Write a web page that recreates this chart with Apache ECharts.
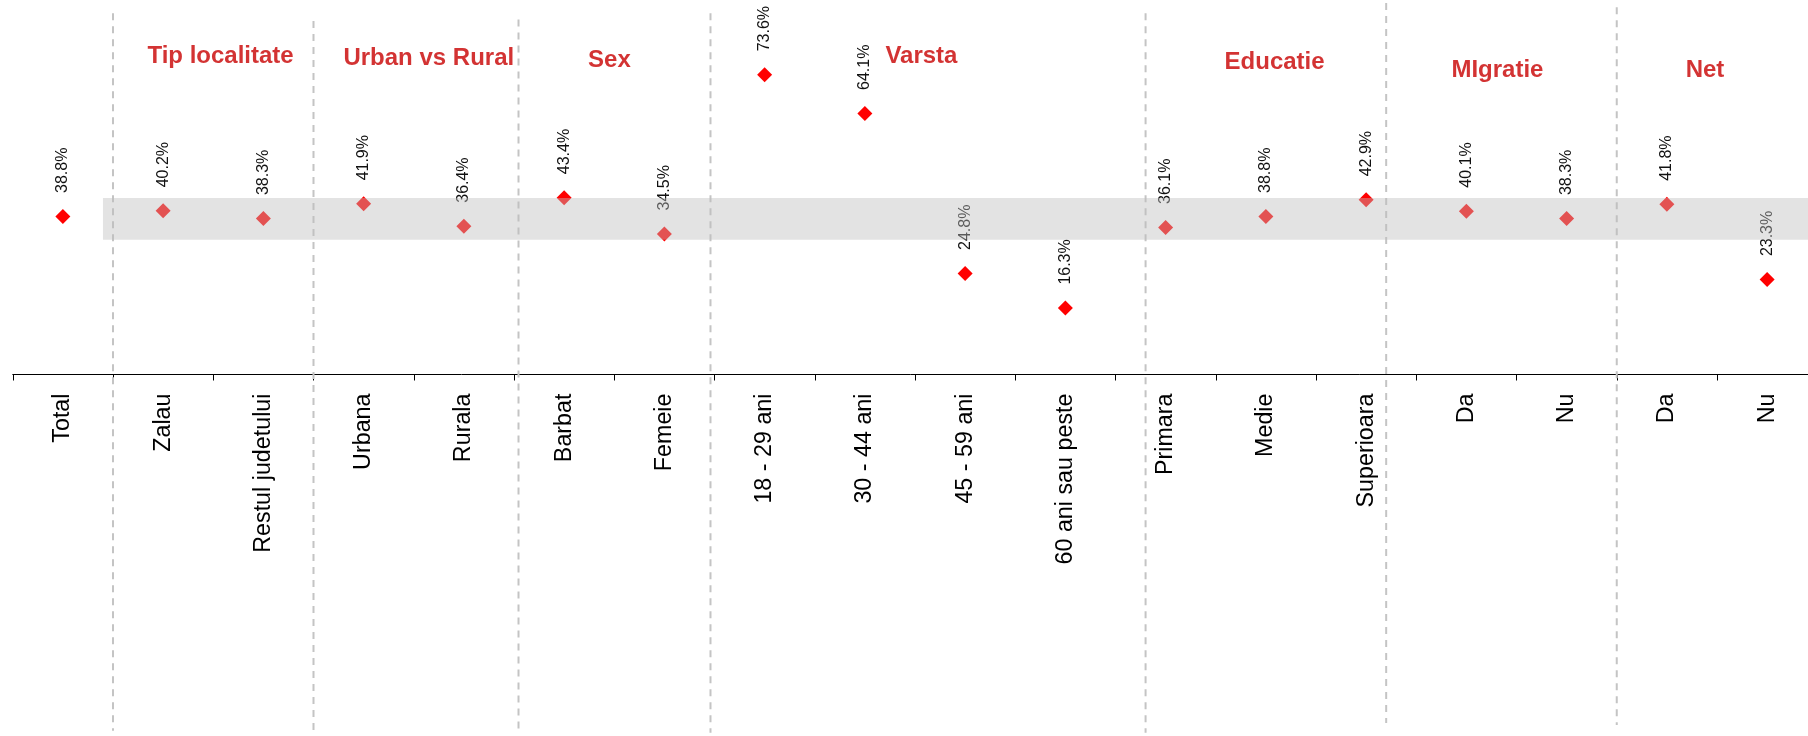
<!DOCTYPE html>
<html>
<head>
<meta charset="utf-8">
<script src="https://cdn.jsdelivr.net/npm/echarts@6/dist/echarts.min.js"></script>
<style>
  html, body { margin: 0; padding: 0; background: #fff; }
  #chart { width: 1808px; height: 736px; }
</style>
</head>
<body>
<div id="chart"></div>
<script>
// Categories along the x axis
const categories = [
  'Total',
  'Zalau', 'Restul judetului',
  'Urbana', 'Rurala',
  'Barbat', 'Femeie',
  '18 - 29 ani', '30 - 44 ani', '45 - 59 ani', '60 ani sau peste',
  'Primara', 'Medie', 'Superioara',
  'Da', 'Nu',
  'Da', 'Nu'
];

// Share (%) for each category
const values = [
  38.8,
  40.2, 38.3,
  41.9, 36.4,
  43.4, 34.5,
  73.6, 64.1, 24.8, 16.3,
  36.1, 38.8, 42.9,
  40.1, 38.3,
  41.8, 23.3
];

// Group headings
const groupNames = ['Tip localitate', 'Urban vs Rural', 'Sex', 'Varsta', 'Educatie', 'MIgratie', 'Net'];

// Reference band around the total (lower / upper, %)
const bandLow = 33.1;
const bandHigh = 43.35;

// Layout: heading anchors in axis units [category position, %]
const groupAnchors = [[1.573, 78.1], [3.65, 77.6], [5.452, 77.1], [8.564, 78.0], [12.087, 76.7], [14.31, 74.8], [16.38, 74.8]];
// Layout: group separators [category position, top %, bottom %]
const separators = [
  [0.5, 88.7, -87.5], [2.5, 86.8, -88.5], [4.545, 87.2, -88], [6.46, 88.7, -88],
  [10.8, 88.7, -88], [13.2, 91.2, -85.6], [15.5, 90.2, -86.1]
];

const FONT = "'Liberation Sans', Arial, sans-serif";
const chart = echarts.init(document.getElementById('chart'), null, { renderer: 'canvas' });

chart.setOption({
  animation: false,
  backgroundColor: '#ffffff',
  grid: { left: 12.75, top: 8, width: 1804.5, height: 366.5, containLabel: false, outerBoundsMode: 'none' },
  xAxis: [
    {
      type: 'category',
      data: categories,
      boundaryGap: true,
      axisLine: { show: true, lineStyle: { color: '#000', width: 1 } },
      axisTick: { show: true, length: 6, interval: 0, lineStyle: { color: '#000', width: 1 } },
      axisLabel: { interval: 0, rotate: 90, margin: 19, fontSize: 23.3, color: '#000', fontFamily: FONT },
      splitLine: { show: false }
    },
    { type: 'value', min: -0.5, max: 17.5, show: false }
  ],
  yAxis: { type: 'value', min: 0, max: 90, show: false, splitLine: { show: false } },
  series: [
    {
      type: 'scatter',
      xAxisIndex: 0,
      yAxisIndex: 0,
      z: 2,
      symbol: 'diamond',
      symbolSize: 15,
      itemStyle: { color: '#ff0000', opacity: 1 },
      label: {
        show: true,
        position: 'top',
        distance: 16,
        rotate: 90,
        align: 'left',
        verticalAlign: 'middle',
        fontSize: 16,
        fontFamily: FONT,
        color: '#111',
        formatter: p => p.value.toFixed(1) + '%'
      },
      data: values
    },
    {
      type: 'scatter',
      xAxisIndex: 1,
      yAxisIndex: 0,
      z: 2,
      silent: true,
      symbolSize: 1,
      itemStyle: { color: 'rgba(0,0,0,0)' },
      label: {
        show: true,
        position: 'inside',
        fontSize: 24,
        fontWeight: 'bold',
        fontFamily: FONT,
        color: '#c80000',
        formatter: p => p.data[2]
      },
      data: groupAnchors.map((a, i) => [a[0], a[1], groupNames[i]])
    },
    {
      type: 'custom',
      xAxisIndex: 1,
      yAxisIndex: 0,
      z: 10,
      silent: true,
      renderItem: (params, api) => {
        const p0 = api.coord([api.value(0), api.value(3)]);
        const p1 = api.coord([api.value(1), api.value(2)]);
        return {
          type: 'rect',
          shape: { x: p0[0], y: p0[1], width: p1[0] - p0[0], height: p1[1] - p0[1] },
          style: { fill: 'rgba(190,190,190,0.43)' }
        };
      },
      encode: { x: [0, 1], y: [2, 3] },
      data: [[0.4, 17.5, bandLow, bandHigh]]
    }
  ]
});

// Dashed separators between groups, placed through the axis scales
const sepGraphics = separators.map(s => {
  const top = chart.convertToPixel({ xAxisIndex: 1, yAxisIndex: 0 }, [s[0], s[1]]);
  const bot = chart.convertToPixel({ xAxisIndex: 1, yAxisIndex: 0 }, [s[0], s[2]]);
  return {
    type: 'line',
    z: 1,
    silent: true,
    shape: { x1: top[0], y1: top[1], x2: bot[0], y2: bot[1] },
    style: { stroke: '#c4c4c4', lineWidth: 2, lineDash: [7, 6] }
  };
});
chart.setOption({ graphic: sepGraphics });
</script>
</body>
</html>
